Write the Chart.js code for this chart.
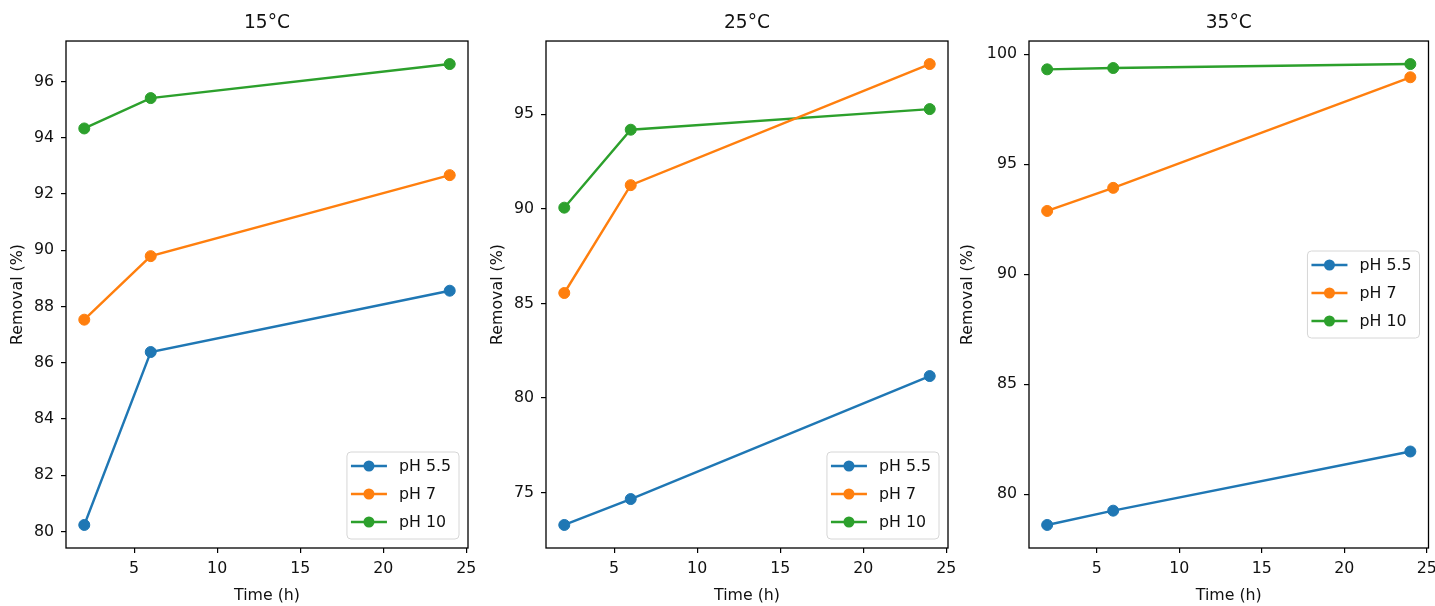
<!DOCTYPE html>
<html>
<head>
<meta charset="utf-8">
<script src="https://cdn.jsdelivr.net/npm/chart.js@4.4.0/dist/chart.umd.min.js"></script>
<style>
  html, body { margin: 0; padding: 0; background: #fff; overflow: hidden; }
  .panel { position: absolute; top: 0; height: 606px; }
</style>
</head>
<body>
<div class="panel" style="left:0;width:480px"><canvas id="c15"></canvas></div>
<div class="panel" style="left:480px;width:480px"><canvas id="c25"></canvas></div>
<div class="panel" style="left:950px;width:485px"><canvas id="c35"></canvas></div>
<script>
// sampling times (h)
const times = [2, 6, 24];
const seriesLabels = ["pH 5.5", "pH 7", "pH 10"];
const colors = ["#1f77b4", "#ff7f0e", "#2ca02c"];

// removal (%)
const ph55_15C = [80.23, 86.38, 88.56];
const ph7_15C = [87.53, 89.79, 92.67];
const ph10_15C = [94.33, 95.41, 96.62];

const ph55_25C = [73.29, 74.66, 81.16];
const ph7_25C = [85.55, 91.25, 97.65];
const ph10_25C = [90.06, 94.18, 95.27];

const ph55_35C = [78.6, 79.25, 81.94];
const ph7_35C = [92.88, 93.93, 98.96];
const ph10_35C = [99.32, 99.38, 99.56];

const xTicks = [5, 10, 15, 20, 25];
const yTicks15 = [80, 82, 84, 86, 88, 90, 92, 94, 96];
const yTicks25 = [75, 80, 85, 90, 95];
const yTicks35 = [80, 85, 90, 95, 100];

Chart.defaults.font.family = '"DejaVu Sans", sans-serif';
Chart.defaults.color = "#111";

const FS = 15.8;

// axes frame + matplotlib style legend inside the plot
const frameLegend = {
  id: "frameLegend",
  afterDatasetsDraw(chart, args, opts) {
    const { ctx, chartArea: a } = chart;
    ctx.save();
    ctx.strokeStyle = "#000";
    ctx.lineWidth = 1.3;
    ctx.strokeRect(a.left, a.top, a.right - a.left, a.bottom - a.top);

    ctx.font = FS + 'px "DejaVu Sans"';
    const sets = chart.data.datasets;
    const textW = Math.max(...sets.map(d => ctx.measureText(d.label).width));
    const w = 4 + 36 + 12 + textW + 8;
    const h = 87;
    const x = a.right - 9 - w;
    const y = opts.loc === "center right" ? (a.top + a.bottom) / 2 - h / 2 : a.bottom - 9 - h;

    ctx.beginPath();
    ctx.roundRect(x, y, w, h, 4);
    ctx.fillStyle = "rgba(255,255,255,0.8)";
    ctx.fill();
    ctx.strokeStyle = "#d6d6d6";
    ctx.lineWidth = 1;
    ctx.stroke();

    sets.forEach((d, i) => {
      const cy = y + 14 + i * 28;
      ctx.strokeStyle = d.borderColor;
      ctx.lineWidth = 2.4;
      ctx.beginPath();
      ctx.moveTo(x + 4, cy);
      ctx.lineTo(x + 40, cy);
      ctx.stroke();
      ctx.fillStyle = d.borderColor;
      ctx.beginPath();
      ctx.arc(x + 22, cy, 5.5, 0, Math.PI * 2);
      ctx.fill();
      ctx.fillStyle = "#111";
      ctx.textBaseline = "middle";
      ctx.fillText(d.label, x + 52, cy + 1);
    });
    ctx.restore();
  }
};

function makeChart(id, title, series, yTicks, plotLeft, padRight, legendLoc) {
  const all = series.flat();
  const ymin = Math.min(...all), ymax = Math.max(...all);
  const ym = (ymax - ymin) * 0.05;
  const xm = (times[times.length - 1] - times[0]) * 0.05;

  return new Chart(document.getElementById(id), {
    type: "line",
    data: {
      datasets: series.map((vals, i) => ({
        label: seriesLabels[i],
        data: vals.map((v, j) => ({ x: times[j], y: v })),
        borderColor: colors[i],
        backgroundColor: colors[i],
        pointBackgroundColor: colors[i],
        pointBorderColor: colors[i],
        borderWidth: 2.4,
        pointRadius: 5.5,
        pointBorderWidth: 1,
        tension: 0,
        clip: false
      }))
    },
    options: {
      responsive: true,
      maintainAspectRatio: false,
      animation: false,
      layout: { padding: { left: 0, right: padRight, top: 0, bottom: 0 } },
      plugins: {
        legend: { display: false },
        tooltip: { enabled: false },
        title: {
          display: true,
          text: title,
          fullSize: false,
          font: { size: 18.6, weight: "normal" },
          padding: { top: 12.3, bottom: 6.4 }
        },
        frameLegend: { loc: legendLoc }
      },
      scales: {
        x: {
          type: "linear",
          min: times[0] - xm,
          max: times[times.length - 1] + xm,
          border: { display: false },
          grid: { drawOnChartArea: false, drawTicks: true, tickLength: 5, color: "#000", lineWidth: 1.2 },
          ticks: { font: { size: FS }, padding: 6 },
          afterBuildTicks: s => { s.ticks = xTicks.map(v => ({ value: v })); },
          afterFit: s => { s.height = 58; s.paddingLeft = 0; s.paddingRight = 0; },
          title: { display: true, text: "Time (h)", font: { size: FS }, padding: { top: 0, bottom: 1 } }
        },
        y: {
          min: ymin - ym,
          max: ymax + ym,
          border: { display: false },
          grid: { drawOnChartArea: false, drawTicks: true, tickLength: 5, color: "#000", lineWidth: 1.2 },
          ticks: { font: { size: FS }, padding: 7 },
          afterBuildTicks: s => { s.ticks = yTicks.map(v => ({ value: v })); },
          afterFit: s => { s.width = plotLeft; s.paddingTop = 0; s.paddingBottom = 0; },
          title: { display: true, text: "Removal (%)", font: { size: FS }, padding: { top: 8.7, bottom: 0 } }
        }
      }
    },
    plugins: [frameLegend]
  });
}

makeChart("c15", "15°C", [ph55_15C, ph7_15C, ph10_15C], yTicks15, 66, 12, "lower right");
makeChart("c25", "25°C", [ph55_25C, ph7_25C, ph10_25C], yTicks25, 66, 12, "lower right");
makeChart("c35", "35°C", [ph55_35C, ph7_35C, ph10_35C], yTicks35, 79, 6, "center right");
</script>
</body>
</html>
